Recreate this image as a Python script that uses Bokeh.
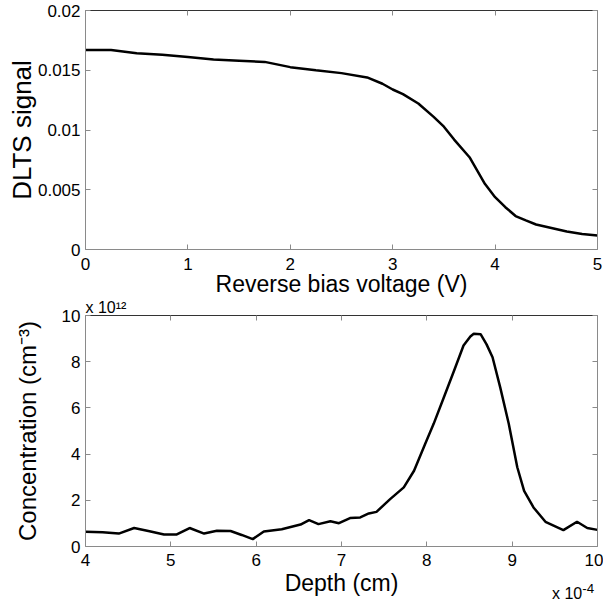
from bokeh.plotting import figure
from bokeh.layouts import column
from bokeh.models import Range1d, LinearAxis, FixedTicker, NumeralTickFormatter, Title, Div
from bokeh.embed import file_html
from bokeh.resources import INLINE

# ---- data ----
volt = [0.0, 0.25, 0.5, 0.75, 1.0, 1.25, 1.5, 1.75, 2.0, 2.25, 2.5, 2.75, 2.9, 3.0,
        3.1, 3.25, 3.4, 3.5, 3.6, 3.75, 3.9, 4.0, 4.1, 4.2, 4.3, 4.4, 4.55, 4.7, 4.85, 5.0]
dlts = [0.0167, 0.0167, 0.01643, 0.0163, 0.0161, 0.0159, 0.0158, 0.0157, 0.01526, 0.0150,
        0.01476, 0.0144, 0.01387, 0.01339, 0.0130, 0.01222, 0.0111, 0.01028, 0.0092, 0.00772,
        0.0055, 0.00438, 0.00354, 0.0028, 0.00243, 0.00209, 0.0018, 0.00151, 0.0013, 0.00117]

depth = [4.0, 4.2, 4.39, 4.57, 4.75, 4.92, 5.07, 5.22, 5.39, 5.54, 5.70, 5.83, 5.96, 6.09,
         6.3, 6.52, 6.62, 6.73, 6.87, 6.97, 7.10, 7.22, 7.32, 7.41, 7.57, 7.73, 7.85, 7.98,
         8.08, 8.20, 8.32, 8.43, 8.51, 8.55, 8.63, 8.70, 8.77, 8.86, 8.96, 9.06, 9.14, 9.25,
         9.39, 9.60, 9.76, 9.88, 10.0]
conc = [0.64, 0.62, 0.56, 0.80, 0.66, 0.52, 0.52, 0.80, 0.56, 0.68, 0.67, 0.50, 0.32, 0.65,
        0.75, 0.95, 1.14, 0.97, 1.09, 1.01, 1.23, 1.26, 1.43, 1.50, 2.05, 2.56, 3.28, 4.44,
        5.31, 6.46, 7.62, 8.70, 9.09, 9.21, 9.19, 8.75, 8.19, 6.89, 5.31, 3.43, 2.41, 1.69,
        1.07, 0.71, 1.07, 0.80, 0.72]

top_xticks = [0, 1, 2, 3, 4, 5]
top_yticks = [0, 0.005, 0.01, 0.015, 0.02]
bot_xticks = [4, 5, 6, 7, 8, 9, 10]
bot_yticks = [0, 2, 4, 6, 8, 10]

FONT = "Liberation Sans"
AX = "#8a8a8a"


def style_axis(ax, show_labels=True):
    ax.axis_line_color = AX
    ax.major_tick_line_color = AX
    ax.major_tick_in = 5
    ax.major_tick_out = 0
    ax.minor_tick_line_color = None
    ax.major_label_text_font = FONT
    ax.major_label_text_color = "black"
    ax.axis_label_text_font = FONT
    ax.axis_label_text_font_style = "normal"
    ax.axis_label_text_color = "black"
    if show_labels:
        ax.major_label_text_font_size = "17px"
    else:
        ax.major_label_text_font_size = "1px"
        ax.major_label_text_color = None
        ax.major_label_standoff = 0


def make(xr, yr, xt, yt, w, h, mb, margin):
    p = figure(width=w, height=h, x_range=Range1d(*xr), y_range=Range1d(*yr),
               output_backend="svg", toolbar_location=None,
               min_border_left=mb[0], min_border_right=mb[1],
               min_border_top=mb[2], min_border_bottom=mb[3], margin=margin)
    p.outline_line_color = None
    p.xgrid.grid_line_color = None
    p.ygrid.grid_line_color = None
    p.background_fill_color = None
    p.border_fill_color = None
    bx = p.below[0]
    ly = p.left[0]
    bx.ticker = FixedTicker(ticks=xt)
    ly.ticker = FixedTicker(ticks=yt)
    style_axis(bx)
    style_axis(ly)
    ra = LinearAxis(ticker=FixedTicker(ticks=yt))
    ta = LinearAxis(ticker=FixedTicker(ticks=xt))
    style_axis(ra, False)
    style_axis(ta, False)
    ta.axis_line_color = "#333333"
    p.add_layout(ra, "right")
    p.add_layout(ta, "above")
    return p, bx, ly


# ---- top panel ----
p1, bx1, ly1 = make((0, 5), (0, 0.02), top_xticks, top_yticks, 603, 300,
                    (85, 6, 10, 51), (0, 0, 0, 0))
p1.line(volt, dlts, line_color="black", line_width=2.5)
ly1.formatter = NumeralTickFormatter(format="0.[000]")
bx1.axis_label = "Reverse bias voltage (V)"
bx1.axis_label_text_font_size = "23px"
bx1.major_label_standoff = 8
bx1.axis_label_standoff = -2
ly1.axis_label = "DLTS signal"
ly1.axis_label_text_font_size = "26px"
ly1.major_label_standoff = 5
ly1.axis_label_standoff = -2

# ---- bottom panel (overlaps the top one slightly, transparent background) ----
p2, bx2, ly2 = make((4, 10), (0, 10), bot_xticks, bot_yticks, 603, 316,
                    (85, 6, 27, 58), (-12, 0, 0, 0))
p2.line(depth, conc, line_color="black", line_width=2.5)
bx2.axis_label = "Depth (cm)"
bx2.axis_label_text_font_size = "23px"
bx2.major_label_standoff = 7
bx2.axis_label_standoff = 1
ly2.axis_label = "Concentration (cm⁻³)"
ly2.axis_label_text_font_size = "24px"
ly2.major_label_standoff = 5
ly2.axis_label_standoff = 18

# multiplier labels (MATLAB-style exponent notes)
p2.add_layout(Title(text="x 10¹²", align="left", offset=0, standoff=0,
                    text_font=FONT, text_font_size="16px", text_font_style="normal",
                    text_color="black"), "above")
xexp = Div(text="x 10<sup>-4</sup>", width=50, height=20, margin=(-24, 0, 0, 552),
           styles={"font-family": FONT, "font-size": "16px", "color": "black",
                   "line-height": "18px", "white-space": "nowrap"})

layout = column(p1, p2, xexp, spacing=0)
open("out.html", "w").write(file_html(layout, INLINE))
